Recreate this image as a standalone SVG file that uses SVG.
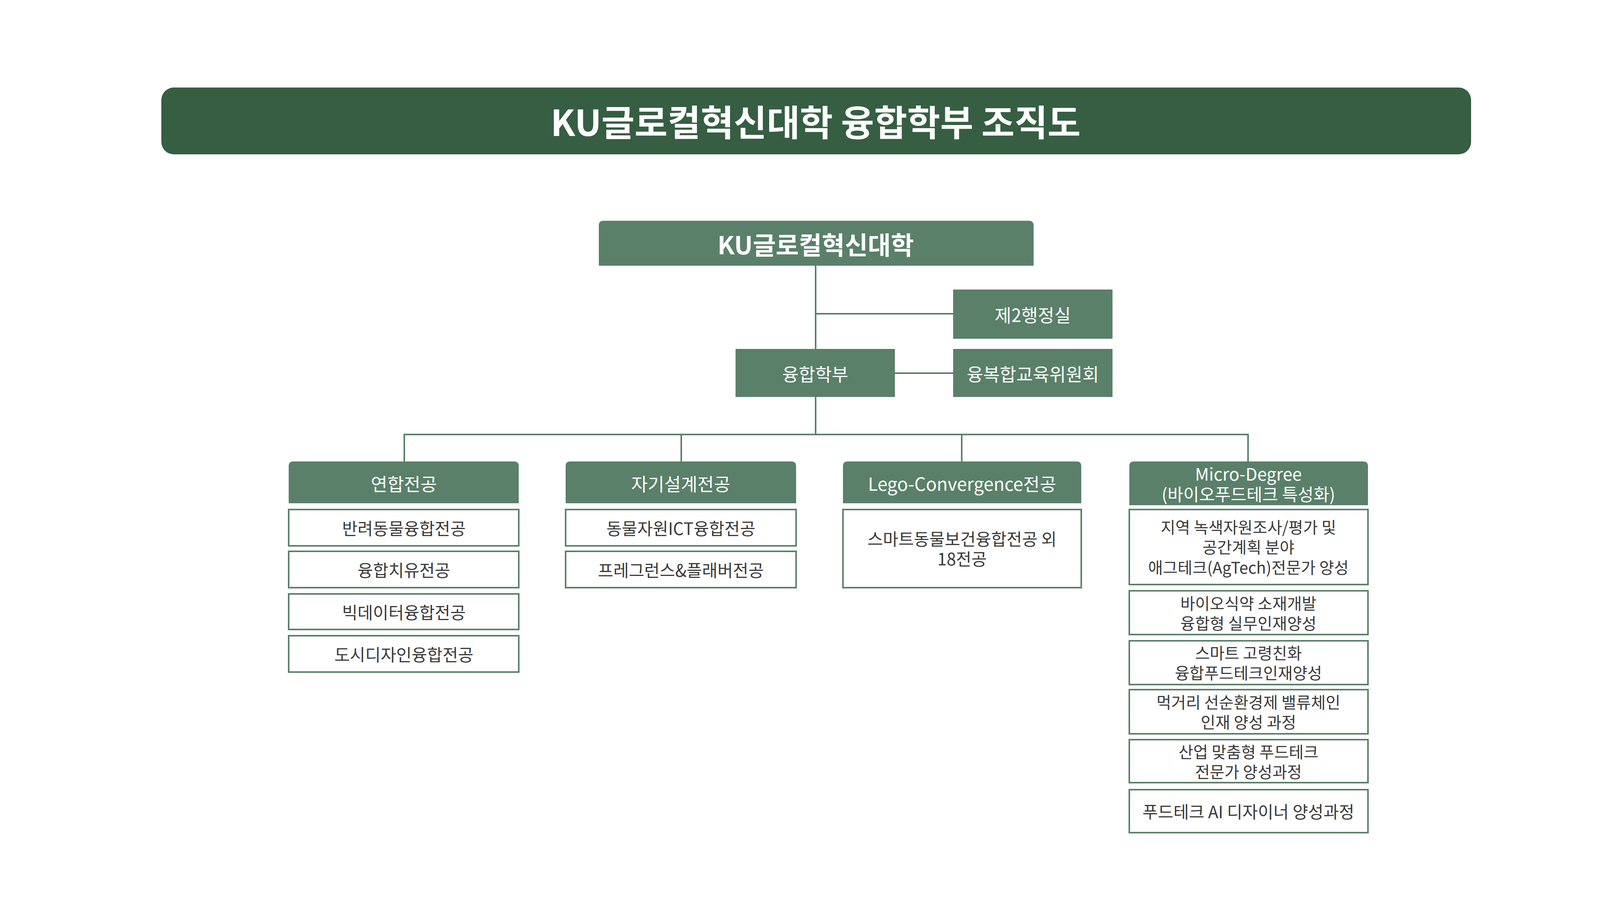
<svg xmlns="http://www.w3.org/2000/svg" width="4182" height="2352" viewBox="0 0 4182 2352">
<style>
text{font-family:"Noto Sans CJK KR","Noto Sans",sans-serif;text-anchor:middle;dominant-baseline:central}
.h{fill:#5a8069}
.ht{fill:#fff;font-size:46px}
.m{fill:#fff;font-size:44px}
.b{fill:#fff;stroke:#5a8069;stroke-width:4}
.bt{fill:#3a3a3a;font-size:43px}
.s{fill:#3a3a3a;font-size:41px}
.c{stroke:#5a8069;stroke-width:4;fill:none}
</style>
<rect width="4182" height="2352" fill="#fff"/>
<g id="title"><rect x="413" y="224" width="3353" height="171" rx="32" fill="#365e42"/><text x="2088" y="307" fill="#fff" font-size="92" font-weight="bold">KU글로컬혁신대학 융합학부 조직도</text></g>
<g id="connectors" class="c">
<path d="M2088 680V1112M2088 803H2440M2291 955H2440M1035 1181V1112H3195V1181M1744 1112V1181M2462 1112V1181"/>
</g>
<g id="top"><path class="h" d="M1545 565H2634Q2646 565 2646 577V680H1533V577Q1533 565 1545 565Z"/><text x="2088" y="623" fill="#fff" font-size="64" font-weight="bold">KU글로컬혁신대학</text></g>
<g id="n2"><rect class="h" x="2440" y="741" width="408" height="126"/><text class="ht" x="2644" y="804">제2행정실</text></g>
<g id="yh"><rect class="h" x="1883" y="893" width="408" height="123"/><text class="ht" x="2087" y="955">융합학부</text></g>
<g id="ybh"><rect class="h" x="2440" y="893" width="408" height="123"/><text class="ht" x="2644" y="955">융복합교육위원회</text></g>
<g id="c1"><path class="h" d="M751 1181H1316Q1328 1181 1328 1193V1288H739V1193Q739 1181 751 1181Z"/><text class="ht" x="1034" y="1236">연합전공</text></g>
<g id="c2"><path class="h" d="M1460 1181H2026Q2038 1181 2038 1193V1288H1448V1193Q1448 1181 1460 1181Z"/><text class="ht" x="1743" y="1236">자기설계전공</text></g>
<g id="c3"><path class="h" d="M2170 1181H2756Q2768 1181 2768 1193V1288H2158V1193Q2158 1181 2170 1181Z"/><text class="ht" x="2463" y="1236">Lego-Convergence전공</text></g>
<g id="c4"><path class="h" d="M2903 1181H3490Q3502 1181 3502 1193V1293H2891V1193Q2891 1181 2903 1181Z"/><text class="m" x="3196" y="1211">Micro-Degree</text><text class="m" x="3196" y="1263">(바이오푸드테크 특성화)</text></g>
<g id="c1a"><rect class="b" x="739" y="1304" width="589" height="93"/><text class="bt" x="1034" y="1350">반려동물융합전공</text></g>
<g id="c1b"><rect class="b" x="739" y="1411" width="589" height="93"/><text class="bt" x="1034" y="1457">융합치유전공</text></g>
<g id="c1c"><rect class="b" x="739" y="1520" width="589" height="91"/><text class="bt" x="1034" y="1565">빅데이터융합전공</text></g>
<g id="c1d"><rect class="b" x="739" y="1627" width="589" height="93"/><text class="bt" x="1034" y="1673">도시디자인융합전공</text></g>
<g id="c2a"><rect class="b" x="1448" y="1304" width="590" height="93"/><text class="bt" x="1743" y="1350">동물자원ICT융합전공</text></g>
<g id="c2b"><rect class="b" x="1448" y="1411" width="590" height="93"/><text class="bt" x="1743" y="1457">프레그런스&amp;플래버전공</text></g>
<g id="c3a"><rect class="b" x="2158" y="1304" width="610" height="200"/><text class="bt" x="2463" y="1377">스마트동물보건융합전공 외</text><text class="bt" x="2463" y="1428">18전공</text></g>
<g id="c4a"><rect class="b" x="2891" y="1304" width="611" height="192"/><text class="s" x="3196" y="1347">지역 녹색자원조사/평가 및</text><text class="s" x="3196" y="1398">공간계획 분야</text><text class="s" x="3196" y="1450">애그테크(AgTech)전문가 양성</text></g>
<g id="c4b"><rect class="b" x="2891" y="1512" width="611" height="112"/><text class="s" x="3196" y="1542">바이오식약 소재개발</text><text class="s" x="3196" y="1593">융합형 실무인재양성</text></g>
<g id="c4c"><rect class="b" x="2891" y="1640" width="611" height="112"/><text class="s" x="3196" y="1669">스마트 고령친화</text><text class="s" x="3196" y="1720">융합푸드테크인재양성</text></g>
<g id="c4d"><rect class="b" x="2891" y="1765" width="611" height="113"/><text class="s" x="3196" y="1795">먹거리 선순환경제 밸류체인</text><text class="s" x="3196" y="1846">인재 양성 과정</text></g>
<g id="c4e"><rect class="b" x="2891" y="1893" width="611" height="110"/><text class="s" x="3196" y="1922">산업 맞춤형 푸드테크</text><text class="s" x="3196" y="1973">전문가 양성과정</text></g>
<g id="c4f"><rect class="b" x="2891" y="2021" width="611" height="110"/><text class="bt" x="3196" y="2075">푸드테크 AI 디자이너 양성과정</text></g>
</svg>
